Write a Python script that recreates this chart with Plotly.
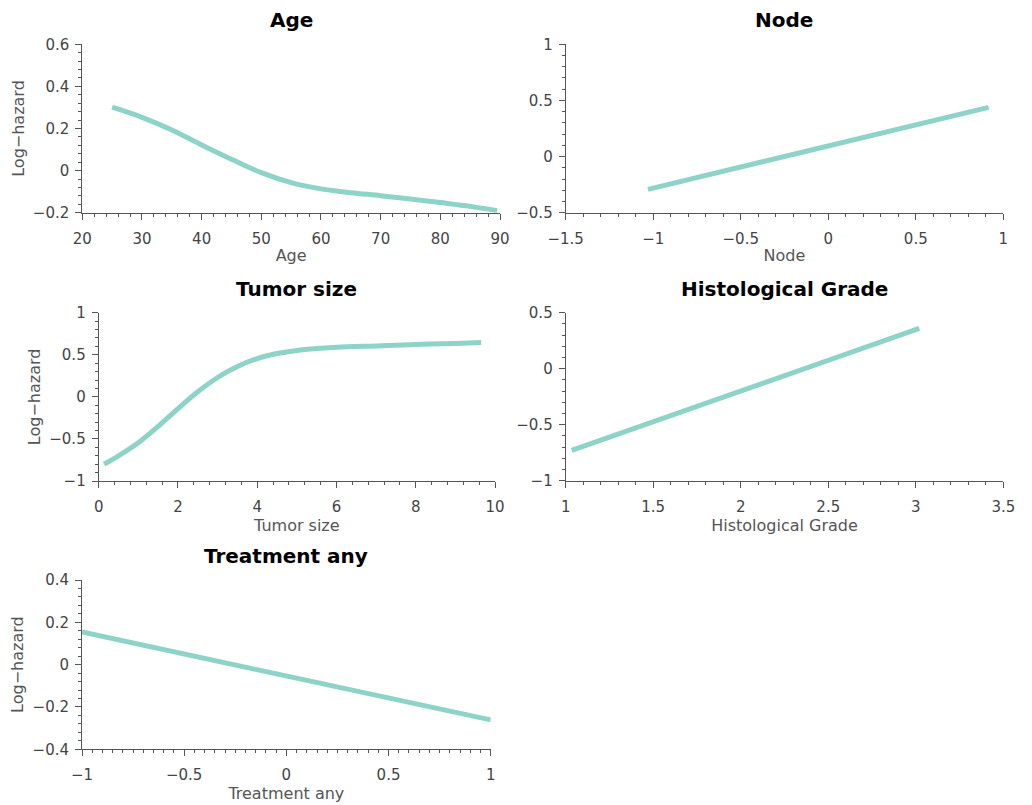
import plotly.graph_objects as go

# Partial effects (log-hazard) for each covariate
age_x = [25, 30, 35, 40, 45, 50, 55, 60, 65, 70, 75, 80, 85, 89.5]
age_y = [0.301, 0.253, 0.193, 0.122, 0.054, -0.01, -0.057, -0.087, -0.105, -0.119, -0.135, -0.152, -0.17, -0.19]

node_x = [-1.03, 0.916]
node_y = [-0.292, 0.438]

tumor_x = [0.135, 0.5, 1.0, 1.5, 2.0, 2.5, 3.0, 3.5, 4.0, 4.5, 5.0, 6.0, 7.0, 8.0, 9.0, 9.65]
tumor_y = [-0.80, -0.70, -0.545, -0.35, -0.14, 0.06, 0.23, 0.36, 0.455, 0.515, 0.552, 0.588, 0.605, 0.622, 0.635, 0.645]

grade_x = [1.034, 3.02]
grade_y = [-0.73, 0.36]

treat_x = [-1.0, 1.0]
treat_y = [0.154, -0.261]

W, H = 1032, 805
LINE_COLOR = "#8dd3c7"
AXIS_COLOR = "#555555"
FONT = "'DejaVu Sans', sans-serif"

# name, x, y, x-range, y-range, x major/minor, y major/minor, pixel box (x0, x1, ytop, ybottom), show y title
panels = [
    ("Age", age_x, age_y, [20, 90], [-0.2, 0.6], 10, 2, 0.2, 0.04, (82.3, 500, 44.3, 212.7), True),
    ("Node", node_x, node_y, [-1.5, 1], [-0.5, 1], 0.5, 0.1, 0.5, 0.1, (565.7, 1003.3, 44.3, 212.7), False),
    ("Tumor size", tumor_x, tumor_y, [0, 10], [-1, 1], 2, 0.4, 0.5, 0.1, (98.7, 495, 312.7, 481), True),
    ("Histological Grade", grade_x, grade_y, [1, 3.5], [-1, 0.5], 0.5, 0.1, 0.5, 0.1, (565.7, 1003.3, 312.7, 480.7), False),
    ("Treatment any", treat_x, treat_y, [-1, 1], [-0.4, 0.4], 0.5, 0.05, 0.2, 0.04, (82, 490.7, 580, 749.3), True),
]

fig = go.Figure()
layout = {}
annotations = []

for i, (name, xs, ys, xr, yr, xd, xmd, yd, ymd, box, ytitle) in enumerate(panels, start=1):
    sx = "" if i == 1 else str(i)
    x0, x1, yt, yb = box
    xdom = [x0 / W, x1 / W]
    ydom = [1 - yb / H, 1 - yt / H]

    fig.add_trace(go.Scatter(
        x=xs, y=ys, mode="lines",
        line=dict(color=LINE_COLOR, width=5, shape="spline", smoothing=1.0),
        xaxis="x" + sx, yaxis="y" + sx, showlegend=False, hoverinfo="skip",
    ))

    common = dict(
        showline=True, linecolor=AXIS_COLOR, linewidth=1,
        ticks="outside", ticklen=6, tickwidth=1, tickcolor=AXIS_COLOR,
        showgrid=False, zeroline=False, automargin=False,
        tickfont=dict(size=15, color="#444444", family=FONT),
    )
    layout["xaxis" + sx] = dict(
        common, domain=xdom, anchor="y" + sx, range=xr, dtick=xd, tick0=xr[0],
        ticklabelstandoff=6,
        minor=dict(ticks="outside", ticklen=3, dtick=xmd, tickcolor=AXIS_COLOR, showgrid=False),
        title=dict(text=name, font=dict(size=16, color="#555555", family=FONT), standoff=3),
    )
    layout["yaxis" + sx] = dict(
        common, domain=ydom, anchor="x" + sx, range=yr, dtick=yd, tick0=yr[0],
        ticklabelstandoff=3,
        minor=dict(ticks="outside", ticklen=3, dtick=ymd, tickcolor=AXIS_COLOR, showgrid=False),
        title=dict(text="Log−hazard" if ytitle else "", font=dict(size=16, color="#555555", family=FONT), standoff=4),
    )
    annotations.append(dict(
        text="<b>" + name + "</b>", x=(xdom[0] + xdom[1]) / 2, y=ydom[1],
        xref="paper", yref="paper", xanchor="center", yanchor="bottom",
        yshift=10, showarrow=False, font=dict(size=20, color="#000000", family=FONT),
    ))

fig.update_layout(
    template="none",
    width=W, height=H,
    margin=dict(l=0, r=0, t=0, b=0),
    paper_bgcolor="white", plot_bgcolor="white",
    annotations=annotations,
    font=dict(family=FONT),
    **layout,
)

fig.write_html("out.html")
